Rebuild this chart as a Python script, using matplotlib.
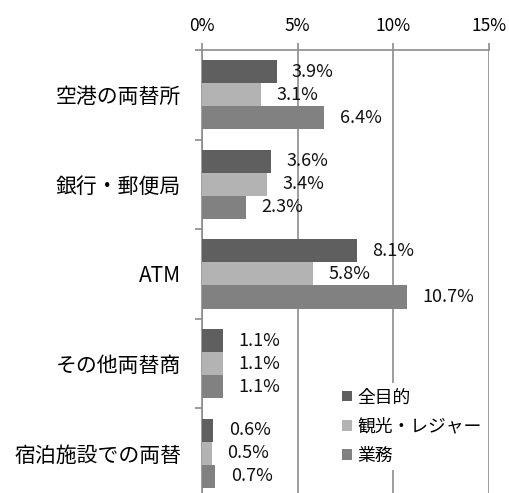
import numpy as np
import matplotlib
matplotlib.use('Agg')
import matplotlib.pyplot as plt

plt.rcParams['font.family'] = ['Noto Sans CJK JP', 'DejaVu Sans']

categories = ['空港の両替所', '銀行・郵便局', 'ATM', 'その他両替商', '宿泊施設での両替']
series_names = ['全目的', '観光・レジャー', '業務']
all_purpose = [3.9, 3.6, 8.1, 1.1, 0.6]
leisure = [3.1, 3.4, 5.8, 1.1, 0.5]
business = [6.4, 2.3, 10.7, 1.1, 0.7]
xticks = [0, 5, 10, 15]
xtick_labels = ['0%', '5%', '10%', '15%']

colors = ['#5f5f5f', '#b3b3b3', '#818181']
grid_col = '#8c8c8c'

fig = plt.figure(figsize=(5.10, 4.93), dpi=100)
ax = fig.add_axes([202/510, -0.01, (489-202)/510, 1 - 50/493 + 0.01])

y = np.arange(len(categories))
h = 0.257
series = [all_purpose, leisure, business]
for i, (vals, name, c) in enumerate(zip(series, series_names, colors)):
    pos = y + (i - 1) * h
    ax.barh(pos, vals, height=h, color=c, label=name, zorder=3)
    for p, v in zip(pos, vals):
        ax.annotate(f'{v:.1f}%', (v, p), xytext=(11, 0), textcoords='offset points',
                    ha='left', va='center', fontsize=13, color='#111111', zorder=4)

ax.set_xlim(0, 15)
ax.set_ylim(len(categories) - 0.5, -0.5)

ax.xaxis.tick_top()
ax.set_xticks(xticks)
ax.set_xticklabels(xtick_labels)
ax.tick_params(axis='x', direction='out', length=5, width=1.2, color=grid_col,
               labelsize=12.5, pad=6)
ax.grid(axis='x', color=grid_col, linewidth=1.2, zorder=0)

ax.set_yticks(y)
ax.set_yticklabels(categories)
ax.set_yticks(np.arange(len(categories) + 1) - 0.5, minor=True)
ax.tick_params(axis='y', which='major', length=0, labelsize=15, pad=15)
ax.tick_params(axis='y', which='minor', length=5, width=1.2, color=grid_col)

for s in ['bottom', 'right']:
    ax.spines[s].set_visible(False)
for s in ['top', 'left']:
    ax.spines[s].set_color(grid_col)
    ax.spines[s].set_linewidth(1.2)

leg = ax.legend(loc='center left', bbox_to_anchor=(0.660, 0.135),
                bbox_transform=fig.transFigure, fontsize=12.8,
                handlelength=0.55, handleheight=0.55, handletextpad=0.3,
                labelspacing=0.62, borderpad=0.3, borderaxespad=0,
                frameon=True, fancybox=False)
leg.get_frame().set_facecolor('white')
leg.get_frame().set_edgecolor('none')
leg.get_frame().set_alpha(1)
leg.set_zorder(5)

fig.savefig('out.png', dpi=100)
